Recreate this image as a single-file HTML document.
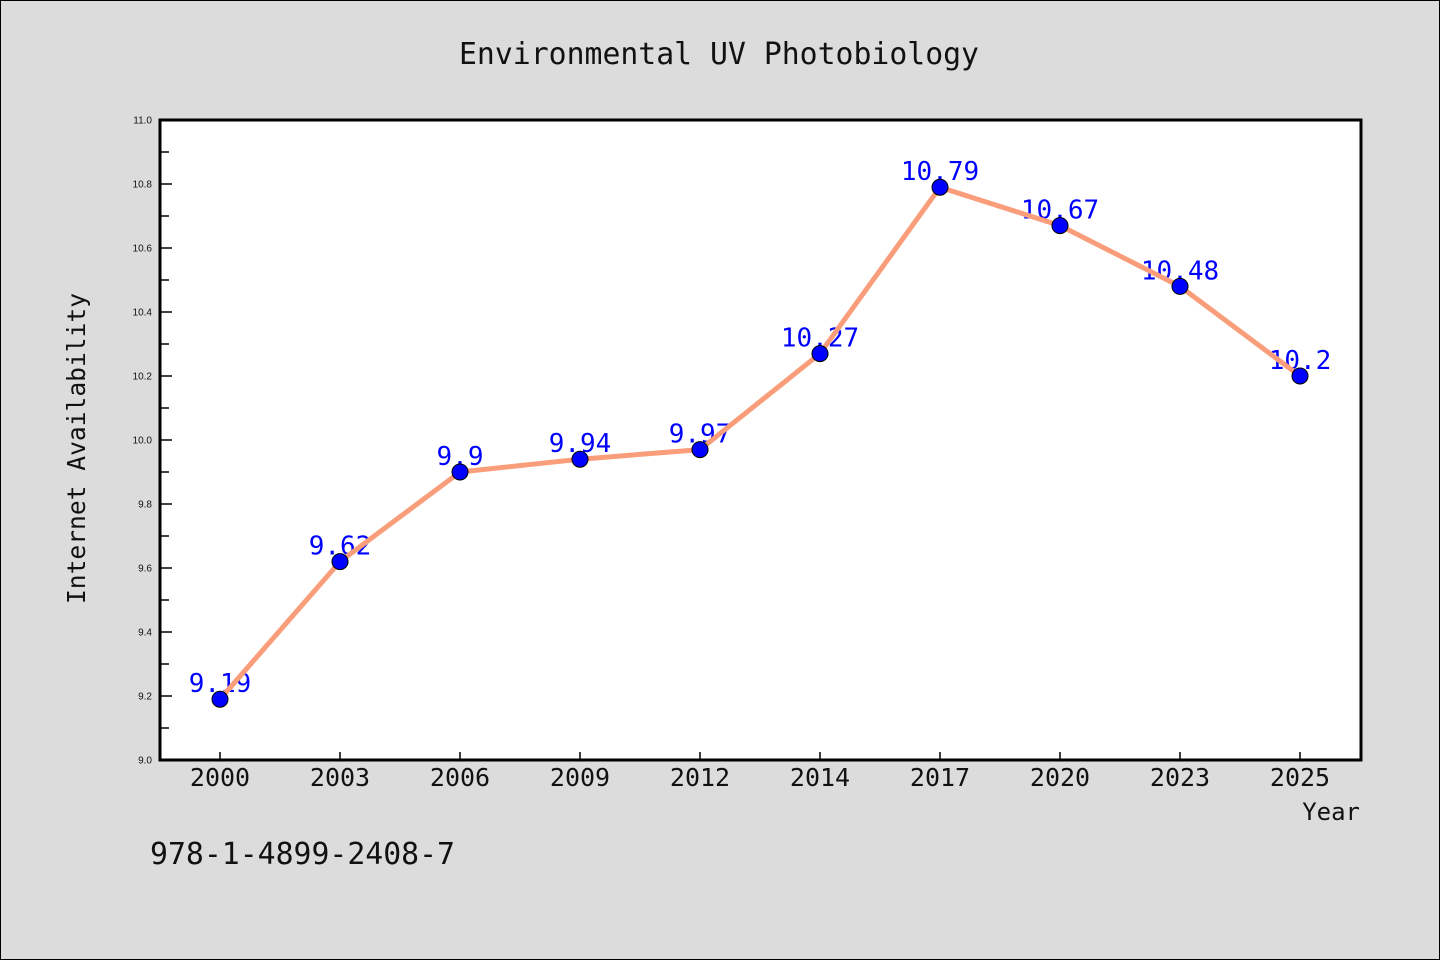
<!DOCTYPE html>
<html><head><meta charset="utf-8">
<style>
html,body{margin:0;padding:0;background:#dcdcdc;}
svg{display:block;font-family:"DejaVu Sans Mono","Liberation Mono",monospace;}
</style></head>
<body>
<svg id="chart" width="1440" height="960" xmlns="http://www.w3.org/2000/svg">
<rect x="0.5" y="0.5" width="1439" height="959" fill="#dcdcdc" stroke="#000"/>
<text x="459" y="64" font-size="30" fill="#111" textLength="520" lengthAdjust="spacingAndGlyphs">Environmental UV Photobiology</text>
<rect x="160" y="120" width="1201" height="640" fill="#fff"/>
<g id="grid"></g>
<g id="series"></g>
<rect x="160" y="120" width="1201" height="640" fill="none" stroke="#000" stroke-width="3"/>
<text x="0" y="0" font-size="25" fill="#111" textLength="311" lengthAdjust="spacingAndGlyphs" transform="translate(85 604) rotate(-90)">Internet Availability</text>
<text x="1360" y="820" text-anchor="end" font-size="24" fill="#111">Year</text>
<text x="150" y="864" font-size="30" fill="#111" textLength="305" lengthAdjust="spacingAndGlyphs">978-1-4899-2408-7</text>
</svg>
<script>
const categories = ["2000","2003","2006","2009","2012","2014","2017","2020","2023","2025"];
const values = [9.19,9.62,9.9,9.94,9.97,10.27,10.79,10.67,10.48,10.2];
const yTickLabels = ["9.0","9.2","9.4","9.6","9.8","10.0","10.2","10.4","10.6","10.8","11.0"];
const yMin = 9.0, yMax = 11.0;
const NS = "http://www.w3.org/2000/svg";
function xs(i){ return 220 + i * 120; }
function ys(v){ return 760 - (v - yMin) / (yMax - yMin) * 640; }
function mk(tag, attrs, parent){ const e = document.createElementNS(NS, tag); for (const k in attrs) e.setAttribute(k, attrs[k]); parent.appendChild(e); return e; }
const grid = document.getElementById("grid");
const series = document.getElementById("series");
yTickLabels.forEach((t) => {
  const v = parseFloat(t), y = ys(v);
  const tick = mk("line", {x1:160, x2:172, y1:y, y2:y, stroke:"#000", "stroke-width":1.5}, grid);
  
  
  const lab = mk("text", {x:152, y:y+3.5, "text-anchor":"end", "font-size":10, fill:"#111", "font-family":"Liberation Sans, sans-serif"}, grid);
  lab.textContent = t;
  
  
  if (v < yMax) {
    const ym = ys(v + 0.1);
    const mt = mk("line", {x1:160, x2:169, y1:ym, y2:ym, stroke:"#000", "stroke-width":1.5}, grid);
    
    
  }
});
categories.forEach((c, i) => {
  const x = xs(i);
  const tick = mk("line", {x1:x, x2:x, y1:760, y2:752, stroke:"#000", "stroke-width":1.5}, grid);
  
  
  const lab = mk("text", {x:x, y:786, "text-anchor":"middle", "font-size":25, fill:"#111"}, grid);
  lab.textContent = c;
  
  
});
values.forEach((v, i) => {
  const lab = mk("text", {x:xs(i), y:ys(v)-7, "text-anchor":"middle", "font-size":26, fill:"#0000ff"}, series);
  lab.textContent = String(v);
  
  
});
const pts = values.map((v, i) => xs(i) + "," + ys(v)).join(" ");
const line = mk("polyline", {points:pts, fill:"none", stroke:"#fa9d7a", "stroke-width":5, "stroke-linejoin":"round"}, series);


values.forEach((v, i) => {
  const c = mk("circle", {cx:xs(i), cy:ys(v), r:8, fill:"#0000ff", stroke:"#000", "stroke-width":1}, series);
  
  
});
</script>
</body></html>
